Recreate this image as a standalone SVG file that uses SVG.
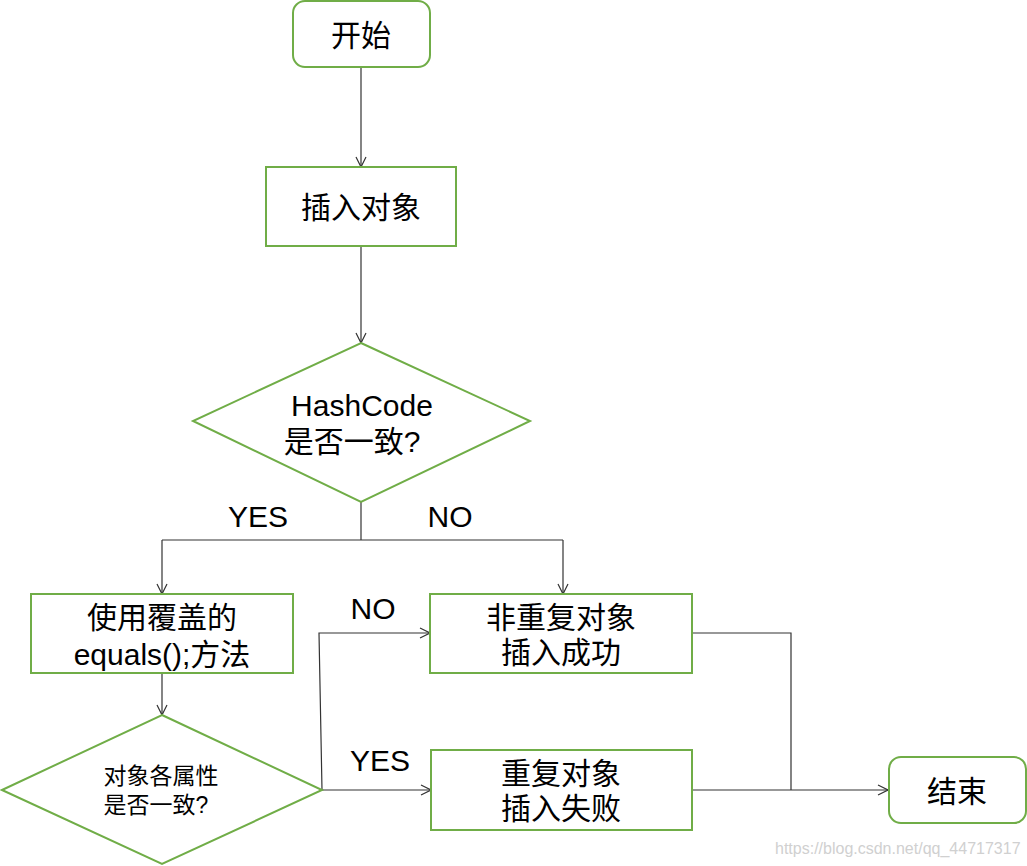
<svg xmlns="http://www.w3.org/2000/svg" width="1027" height="866" viewBox="0 0 1027 866">
<defs>
<style>
.n{fill:#fff;stroke:#70AD47;stroke-width:2}
.t{font-family:"Liberation Sans","Noto Sans CJK SC",sans-serif;fill:#000;text-anchor:middle;dominant-baseline:central}
.big{font-size:30px}
.sm{font-size:23px}
.c{fill:none;stroke:#333;stroke-width:1.2}
.wm{font-family:"Liberation Sans",sans-serif;font-size:16px;fill:#d0d0d0}
</style>
<marker id="a" markerWidth="12" markerHeight="12" refX="11" refY="6" orient="auto" markerUnits="userSpaceOnUse">
<path d="M1,1 L11,6 L1,11" fill="none" stroke="#333" stroke-width="1.2"/>
</marker>
</defs>
<rect width="1027" height="866" fill="#fff"/>
<g id="connectors">
<path class="c" d="M361,67 V167" marker-end="url(#a)"/>
<path class="c" d="M361,246 V343" marker-end="url(#a)"/>
<path class="c" d="M361,502 V540"/>
<path class="c" d="M162,540 H563"/>
<path class="c" d="M162,540 V594" marker-end="url(#a)"/>
<path class="c" d="M563,540 V594" marker-end="url(#a)"/>
<path class="c" d="M162,673 V715" marker-end="url(#a)"/>
<path class="c" d="M322,790 L319,633 H430" marker-end="url(#a)"/>
<path class="c" d="M322,790 H431" marker-end="url(#a)"/>
<path class="c" d="M692,633 H791 V790"/>
<path class="c" d="M692,790 H888" marker-end="url(#a)"/>
<text class="t big" x="258" y="516">YES</text>
<text class="t big" x="450" y="516">NO</text>
<text class="t big" x="373" y="608">NO</text>
<text class="t big" x="380" y="760">YES</text>
</g>
<g id="start">
<rect class="n" x="293" y="1" width="137" height="66" rx="12"/>
<text class="t big" x="361" y="35">开始</text>
</g>
<g id="insert">
<rect class="n" x="266" y="167" width="190" height="79"/>
<text class="t big" x="361" y="207">插入对象</text>
</g>
<g id="hash">
<polygon class="n" points="361,343 530,421 361,502 193,421"/>
<text class="t big" x="362" y="405">HashCode</text>
<text class="t big" x="352" y="441">是否一致?</text>
</g>
<g id="equals">
<rect class="n" x="31" y="594" width="262" height="79"/>
<text class="t big" x="162" y="617">使用覆盖的</text>
<text class="t big" x="162" y="654">equals();方法</text>
</g>
<g id="attr">
<polygon class="n" points="162,715 322,790 162,864 2,790"/>
<text class="t sm" x="161" y="776">对象各属性</text>
<text class="t sm" x="156" y="805">是否一致?</text>
</g>
<g id="success">
<rect class="n" x="430" y="594" width="262" height="79"/>
<text class="t big" x="561" y="617">非重复对象</text>
<text class="t big" x="561" y="652">插入成功</text>
</g>
<g id="fail">
<rect class="n" x="431" y="750" width="261" height="80"/>
<text class="t big" x="561" y="773">重复对象</text>
<text class="t big" x="561" y="808">插入失败</text>
</g>
<g id="end">
<rect class="n" x="889" y="757" width="137" height="66" rx="12"/>
<text class="t big" x="957" y="791">结束</text>
</g>
<text class="wm" x="775" y="854">https://blog.csdn.net/qq_44717317</text>
</svg>
